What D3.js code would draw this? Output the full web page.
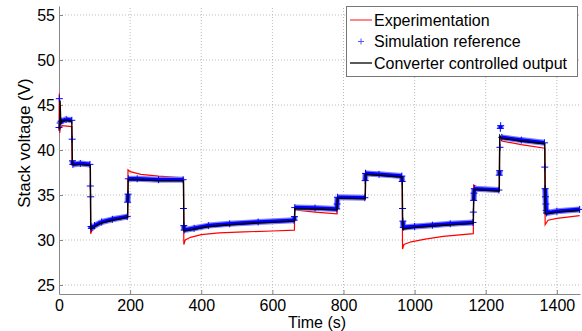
<!DOCTYPE html>
<html>
<head>
<meta charset="utf-8">
<script src="https://cdn.jsdelivr.net/npm/d3@7"></script>
<style>
  body { margin: 0; background: #fff; }
  text { font-family: "Liberation Sans", Arial, sans-serif; fill: #000; }
</style>
</head>
<body>
<div class="canva"></div>
<script>
// series: [time (s), stack voltage (V)]
const experimentation = [
  [0, 42.3], [1, 46.3], [2, 41.9], [4, 42.5], [8, 42.7], [36, 42.6],
  [37, 38.3], [60, 38.3], [88, 38.2],
  [89, 30.7], [92, 31.0], [100, 31.3], [120, 31.8], [150, 32.1], [193, 32.4],
  [194, 37.8], [200, 37.6], [230, 37.3], [280, 37.1], [350, 36.9],
  [351, 29.5], [355, 30.0], [370, 30.3], [400, 30.6], [450, 30.8], [520, 30.9], [600, 31.0], [662, 31.1],
  [663, 33.6], [670, 33.3], [720, 33.1], [782, 32.9],
  [783, 34.6], [861, 34.5],
  [862, 37.7], [870, 37.4], [900, 37.2], [965, 36.9],
  [966, 29.0], [970, 29.5], [990, 29.8], [1030, 30.1], [1080, 30.4], [1165, 30.7],
  [1166, 36.1], [1180, 35.8], [1238, 35.5],
  [1239, 41.5], [1245, 41.0], [1300, 40.6], [1366, 40.2],
  [1367, 31.7], [1375, 32.2], [1400, 32.4], [1464, 32.7]
];

const simulation = [
  [0, 42.5], [1, 45.7], [3, 43.0], [6, 43.2], [20, 43.4], [36, 43.3],
  [37, 41.2], [38, 38.8], [39, 38.4], [60, 38.5], [87, 38.4],
  [88, 36.0], [89, 34.8], [90, 31.5], [91, 31.3], [100, 31.6], [120, 32.0], [150, 32.3], [192, 32.6],
  [193, 34.2], [194, 35.1], [195, 36.8], [220, 36.8], [280, 36.7], [349, 36.7],
  [350, 33.5], [351, 31.6], [352, 31.1], [380, 31.3], [420, 31.6], [480, 31.8], [560, 32.0], [661, 32.2],
  [662, 32.6], [663, 33.6], [720, 33.55], [781, 33.45],
  [782, 34.0], [783, 34.75], [860, 34.7],
  [861, 36.6], [862, 37.4], [900, 37.3], [964, 37.1],
  [965, 36.5], [966, 33.5], [967, 32.1], [968, 31.4], [1000, 31.5], [1050, 31.65], [1100, 31.8], [1164, 31.95],
  [1165, 33.1], [1166, 34.4], [1167, 35.2], [1168, 35.7], [1237, 35.55],
  [1238, 37.2], [1239, 37.7], [1240, 40.3], [1241, 42.4], [1242, 42.7], [1245, 41.4], [1300, 41.1], [1365, 40.8],
  [1366, 38.1], [1367, 35.7], [1368, 34.8], [1369, 34.0], [1370, 33.3], [1371, 33.0], [1400, 33.2], [1464, 33.4]
];

const converter = [
  [0, 42.6], [2, 42.3], [3, 45.5], [5, 43.0], [8, 43.2], [20, 43.3], [36, 43.2],
  [37.5, 38.4], [60, 38.4], [88, 38.3],
  [89.5, 31.2], [100, 31.5], [120, 31.9], [150, 32.2], [193, 32.5],
  [194.5, 36.7], [220, 36.7], [280, 36.6], [350, 36.6],
  [351.5, 31.0], [380, 31.2], [420, 31.5], [480, 31.7], [560, 31.9], [662, 32.1],
  [663.5, 33.5], [720, 33.45], [782, 33.35],
  [783.5, 34.65], [861, 34.6],
  [862.5, 37.3], [900, 37.2], [965, 37.0],
  [966.5, 31.2], [1000, 31.4], [1050, 31.55], [1100, 31.7], [1165, 31.85],
  [1166.5, 35.6], [1238, 35.45],
  [1239.5, 41.6], [1245, 41.3], [1300, 41.0], [1366, 40.7],
  [1367.5, 32.9], [1400, 33.1], [1464, 33.3]
];

const xTicks = [0, 200, 400, 600, 800, 1000, 1200, 1400];
const yTicks = [25, 30, 35, 40, 45, 50, 55];
const legendLabels = ['Experimentation', 'Simulation reference', 'Converter controlled output'];

const width = 582, height = 331;
const margin = {top: 6, right: 2, bottom: 37, left: 59};

const svg = d3.select('.canva').append('svg')
    .attr('width', width)
    .attr('height', height);

const x = d3.scaleLinear().domain([0, 1465]).range([margin.left, width - margin.right]);
const y = d3.scaleLinear().domain([24, 56]).range([height - margin.bottom, margin.top]);

// dotted grid
const grid = svg.append('g');
grid.selectAll('.gx').data(xTicks.slice(1)).enter().append('line')
    .attr('x1', d => x(d)).attr('x2', d => x(d))
    .attr('y1', y(24)).attr('y2', y(56))
    .attr('stroke', '#bbb').attr('stroke-dasharray', '1,2');
grid.selectAll('.gy').data(yTicks).enter().append('line')
    .attr('x1', x(0)).attr('x2', x(1465))
    .attr('y1', d => y(d)).attr('y2', d => y(d))
    .attr('stroke', '#bbb').attr('stroke-dasharray', '1,2');

// axes
const xAxis = svg.append('g')
    .attr('transform', `translate(0, ${y(24)})`)
    .call(d3.axisBottom(x).tickValues(xTicks).tickFormat(d3.format('d'))
        .tickSize(-4).tickSizeOuter(0).tickPadding(6));
const yAxis = svg.append('g')
    .attr('transform', `translate(${x(0)}, 0)`)
    .call(d3.axisLeft(y).tickValues(yTicks).tickSize(-4).tickSizeOuter(0).tickPadding(4));

[xAxis, yAxis].forEach(a => {
  a.select('.domain').attr('stroke', '#888');
  a.selectAll('.tick line').attr('stroke', '#888');
  a.selectAll('.tick text').attr('font-size', 16).attr('fill', '#000');
});

const line = d3.line().x(d => x(d[0])).y(d => y(d[1]));

// experimentation (red)
svg.append('path').datum(experimentation)
    .attr('d', line).attr('fill', 'none')
    .attr('stroke', '#ff0000').attr('stroke-width', 1.2);

// simulation reference: dense '+' markers form a blue band on the slow parts
const bandPairs = d3.pairs(simulation).filter(([a, b]) => Math.abs(b[1] - a[1]) < 1);
const band = svg.append('g');
band.selectAll('.outer').data(bandPairs).enter().append('path')
    .attr('d', d => line(d)).attr('fill', 'none')
    .attr('stroke', '#8080ff').attr('stroke-width', 6);
band.selectAll('.inner').data(bandPairs).enter().append('path')
    .attr('d', d => line(d)).attr('fill', 'none')
    .attr('stroke', '#0000ff').attr('stroke-width', 3.6);

svg.append('g').selectAll('path').data(simulation).enter().append('path')
    .attr('transform', d => `translate(${x(d[0])}, ${y(d[1])})`)
    .attr('d', 'M-3.5,0H3.5M0,-3.5V3.5')
    .attr('stroke', '#0000ff').attr('stroke-width', 1);

// converter controlled output (black)
svg.append('path').datum(converter)
    .attr('d', line).attr('fill', 'none')
    .attr('stroke', '#000').attr('stroke-width', 1.4);

// axis labels
svg.append('text')
    .attr('x', 317).attr('y', 328)
    .attr('text-anchor', 'middle').attr('font-size', 16)
    .text('Time (s)');
svg.append('text')
    .attr('transform', 'translate(30, 143) rotate(-90)')
    .attr('text-anchor', 'middle').attr('font-size', 17)
    .text('Stack voltage (V)');

// legend
const legend = svg.append('g');
legend.append('rect')
    .attr('x', 346.5).attr('y', 6.5).attr('width', 231).attr('height', 70)
    .attr('fill', '#fff').attr('stroke', '#777');
const rowY = [20, 41.5, 63];
legendLabels.forEach((label, i) => {
  if (i === 1) {
    legend.append('path')
        .attr('transform', `translate(361, ${rowY[i]})`)
        .attr('d', 'M-3,0H3M0,-3V3')
        .attr('stroke', '#5555ff').attr('stroke-width', 1);
  } else {
    legend.append('line')
        .attr('x1', 350).attr('x2', 372).attr('y1', rowY[i]).attr('y2', rowY[i])
        .attr('stroke', i === 0 ? '#ff4444' : '#000').attr('stroke-width', 1.3);
  }
  legend.append('text')
      .attr('x', 374).attr('y', rowY[i]).attr('dy', '0.35em')
      .attr('font-size', 16)
      .text(label);
});
</script>
</body>
</html>
